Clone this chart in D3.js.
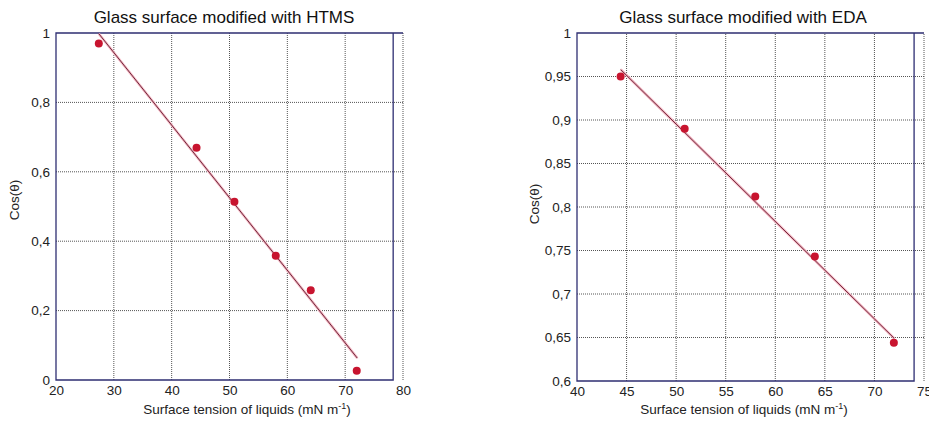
<!DOCTYPE html>
<html lang="en">
<head>
  <meta charset="UTF-8">
  <title>Contact angle plots</title>
  <script src="https://d3js.org/d3.v7.min.js"></script>
  <style>
    body { margin: 0; background: #fff; }
    svg { font-family: "Liberation Sans", Arial, sans-serif; }
  </style>
</head>
<body>
<svg id="chart" width="929" height="421"></svg>

<script>
  // HTMS panel
  const htmsTension = [27.4, 44.3, 50.85, 58.0, 64.05, 72.0];
  const htmsCos = [0.970, 0.669, 0.514, 0.358, 0.259, 0.027];
  const htmsFitX = [27.4, 72.1];
  const htmsFitY = [0.998, 0.063];
  const htmsXTicks = [20, 30, 40, 50, 60, 70, 80];
  const htmsYTicks = [0, 0.2, 0.4, 0.6, 0.8, 1];

  // EDA panel
  const edaTension = [44.4, 50.86, 57.98, 63.99, 71.96];
  const edaCos = [0.950, 0.890, 0.812, 0.743, 0.644];
  const edaFitX = [44.4, 72.0];
  const edaFitY = [0.958, 0.649];
  const edaXTicks = [40, 45, 50, 55, 60, 65, 70, 75];
  const edaYTicks = [0.6, 0.65, 0.7, 0.75, 0.8, 0.85, 0.9, 0.95, 1];

  const svg = d3.select("#chart");
  const fmt = d => String(+d.toFixed(2)).replace(".", ",");

  function panel(opt) {
    const x = d3.scaleLinear().domain(opt.xDomain).range([opt.left, opt.right]);
    const y = d3.scaleLinear().domain(opt.yDomain).range([opt.bottom, opt.top]);
    const g = svg.append("g");

    // dotted grid
    g.selectAll(".vg").data(opt.xTicks.slice(1)).enter().append("line")
      .attr("x1", d => x(d)).attr("x2", d => x(d))
      .attr("y1", y(opt.yDomain[0])).attr("y2", y(opt.yDomain[1]))
      .attr("stroke", "#555").attr("stroke-width", 1).attr("stroke-dasharray", "1,1");
    g.selectAll(".hg").data(opt.yTicks.slice(1, -1)).enter().append("line")
      .attr("x1", x(opt.xDomain[0])).attr("x2", x(opt.xDomain[1]))
      .attr("y1", d => y(d)).attr("y2", d => y(d))
      .attr("stroke", "#555").attr("stroke-width", 1).attr("stroke-dasharray", "1,1");

    // frame
    const fx = x(opt.frameRight);
    g.append("path")
      .attr("d", `M${x(opt.xDomain[1])},${y(opt.yDomain[1])}H${x(opt.xDomain[0])}V${y(opt.yDomain[0])}H${fx}V${y(opt.yDomain[1])}`)
      .attr("fill", "none").attr("stroke", "#2e2e72").attr("stroke-width", 1.3);

    // axes (labels only)
    const xa = g.append("g")
      .attr("transform", `translate(0,${y(opt.yDomain[0])})`)
      .call(d3.axisBottom(x).tickValues(opt.xTicks).tickSize(0).tickPadding(5).tickFormat(fmt));
    const ya = g.append("g")
      .attr("transform", `translate(${x(opt.xDomain[0])},0)`)
      .call(d3.axisLeft(y).tickValues(opt.yTicks).tickSize(0).tickPadding(6).tickFormat(fmt));
    [xa, ya].forEach(a => {
      a.select(".domain").remove();
      a.selectAll("text").attr("font-size", 13.5).attr("fill", "#222")
        .attr("font-family", "Liberation Sans, Arial, sans-serif");
    });

    // fit line
    const line = d3.line().x(d => x(d[0])).y(d => y(d[1]));
    g.append("path")
      .datum(d3.zip(opt.fitX, opt.fitY))
      .attr("d", line)
      .attr("fill", "none").attr("stroke", "#f4b3c0").attr("stroke-width", 2.6);
    g.append("path")
      .datum(d3.zip(opt.fitX, opt.fitY))
      .attr("d", line)
      .attr("fill", "none").attr("stroke", "#5c1a2c").attr("stroke-width", 0.9);

    // points
    g.selectAll(".pt").data(d3.zip(opt.xs, opt.ys)).enter().append("circle")
      .attr("cx", d => x(d[0])).attr("cy", d => y(d[1])).attr("r", 4)
      .attr("fill", "#c8142f");

    // title and axis labels
    g.append("text")
      .attr("x", opt.titleX).attr("y", 23)
      .attr("text-anchor", "middle").attr("font-size", 17).attr("fill", "#111")
      .text(opt.title);
    const xl = g.append("text")
      .attr("x", opt.xLabelX).attr("y", 414)
      .attr("text-anchor", "middle").attr("font-size", 13.5).attr("fill", "#222");
    xl.append("tspan").text("Surface tension of liquids (mN m");
    xl.append("tspan").attr("dy", -5).attr("font-size", 9).text("-1");
    xl.append("tspan").attr("dy", 5).text(")");
    g.append("text")
      .attr("transform", `translate(${opt.yLabelX},${opt.yLabelY}) rotate(-90)`)
      .attr("text-anchor", "middle").attr("font-size", 13.5).attr("fill", "#222")
      .text("Cos(\u03b8)");
  }

  panel({
    xDomain: [20, 80], yDomain: [0, 1], frameRight: 78.3,
    left: 56, right: 403, top: 33, bottom: 380,
    xTicks: htmsXTicks, yTicks: htmsYTicks,
    xs: htmsTension, ys: htmsCos, fitX: htmsFitX, fitY: htmsFitY,
    title: "Glass surface modified with HTMS", titleX: 224,
    xLabelX: 247, yLabelX: 19, yLabelY: 200
  });

  panel({
    xDomain: [40, 75], yDomain: [0.6, 1], frameRight: 74.0,
    left: 577, right: 924, top: 33, bottom: 381,
    xTicks: edaXTicks, yTicks: edaYTicks,
    xs: edaTension, ys: edaCos, fitX: edaFitX, fitY: edaFitY,
    title: "Glass surface modified with EDA", titleX: 743,
    xLabelX: 744, yLabelX: 539, yLabelY: 204
  });
</script>
</body>
</html>
